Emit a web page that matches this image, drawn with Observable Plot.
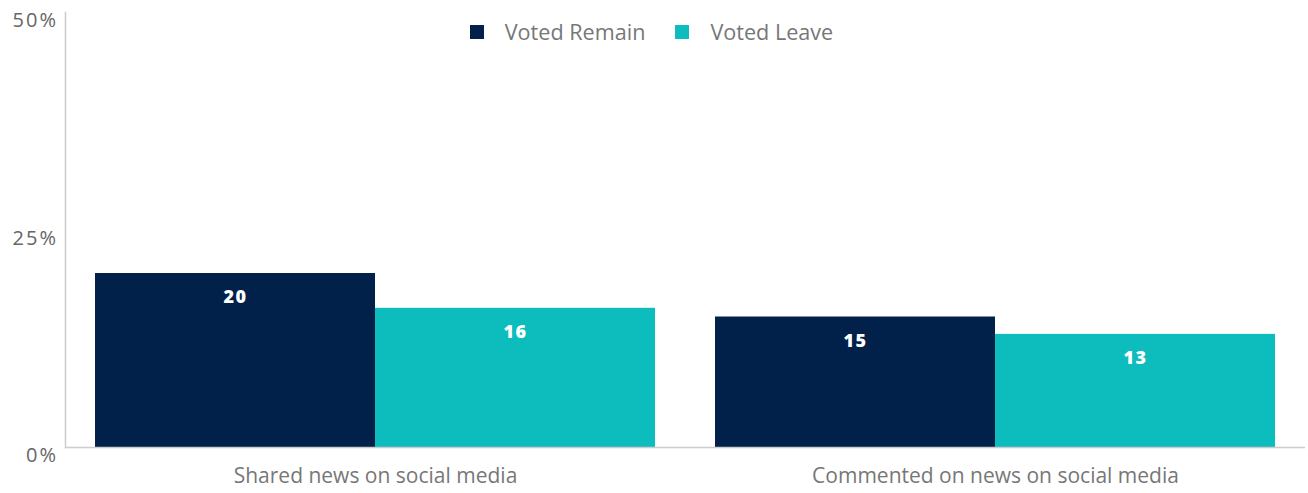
<!DOCTYPE html>
<html><head><meta charset="utf-8">
<script src="https://cdn.jsdelivr.net/npm/d3@7"></script>
<script src="https://cdn.jsdelivr.net/npm/@observablehq/plot@0.6"></script>
<style>
body{margin:0;background:#fff;font-family:"Open Sans",sans-serif;}
#wrap{position:relative;width:1308px;height:493px;}
#legend{position:absolute;top:17px;left:0;width:1308px;display:flex;justify-content:center;gap:30px;padding-right:5px;box-sizing:border-box;font-size:21.6px;color:#777;}
#legend span.item{display:flex;align-items:center;}
#legend span.sw{display:inline-block;width:14px;height:14px;margin-right:21px;}
</style></head>
<body><div id="wrap"><div id="legend"></div><div id="chart"></div></div>
<script>
const categories = ["Shared news on social media", "Commented on news on social media"];
const series = ["Voted Remain", "Voted Leave"];
const remainValues = [20, 15];
const leaveValues = [16, 13];
const colors = ["#01214b", "#0dbdbd"];
const yTicks = [0, 25, 50];

const data = [];
categories.forEach((c, i) => {
  data.push({category: c, series: series[0], value: remainValues[i]});
  data.push({category: c, series: series[1], value: leaveValues[i]});
});

const chart = Plot.plot({
  width: 1308,
  height: 493,
  marginLeft: 65,
  marginRight: 3,
  marginTop: 12,
  marginBottom: 46,
  style: {fontFamily: "Open Sans, sans-serif", background: "transparent"},
  fx: {domain: categories, paddingInner: 0, paddingOuter: 0, axis: "bottom", label: null, tickSize: 0, tickPadding: 21},
  x: {domain: series, paddingInner: 0, paddingOuter: 0.107, axis: null},
  y: {domain: [0, 50], ticks: yTicks, tickFormat: d => d + "%", tickSize: 0, tickPadding: 7.5, label: null, line: true},
  color: {domain: series, range: colors},
  marks: [
    Plot.barY(data, {fx: "category", x: "series", y: "value", fill: "series"}),
    Plot.ruleY([0], {stroke: "#ccc", strokeWidth: 1.5}),
    Plot.text(data, {fx: "category", x: "series", y: "value", text: d => String(d.value), dy: 24, fill: "white", fontWeight: 800, fontSize: 18})
  ]
});
document.getElementById("chart").appendChild(chart);

// style axes
chart.querySelectorAll('g[aria-label="y-axis tick label"] text').forEach(t => { t.setAttribute("dy", "8.5"); t.setAttribute("letter-spacing", "2"); });
chart.querySelectorAll('g[aria-label="y-axis tick label"]').forEach(g => { g.setAttribute("fill", "#666"); g.setAttribute("font-size", 20); });
chart.querySelectorAll('g[aria-label="fx-axis tick label"]').forEach(g => { g.setAttribute("fill", "#777"); g.setAttribute("font-size", 21); });
chart.querySelectorAll('g[aria-label="text"] text').forEach(t => { t.setAttribute("letter-spacing", "1.5"); });
chart.querySelectorAll('[stroke="currentColor"]').forEach(el => { el.setAttribute("stroke", "#ccc"); el.setAttribute("stroke-width", 1.5); });

const legend = document.getElementById("legend");
series.forEach((s, i) => {
  const item = document.createElement("span");
  item.className = "item";
  item.innerHTML = `<span class="sw" style="background:${colors[i]}"></span>${s}`;
  legend.appendChild(item);
});
</script></body></html>
